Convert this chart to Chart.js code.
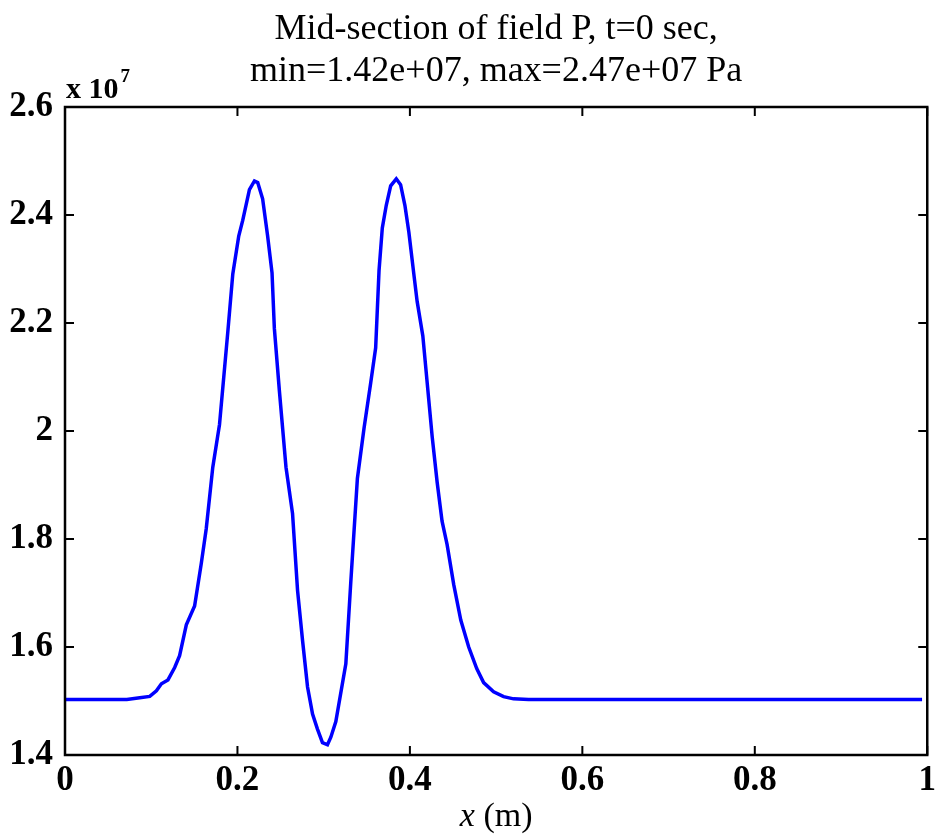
<!DOCTYPE html>
<html>
<head>
<meta charset="utf-8">
<script src="https://cdn.jsdelivr.net/npm/chart.js@4.4.1/dist/chart.umd.min.js"></script>
<style>
  html, body { margin: 0; padding: 0; background: #fff; }
  #wrap { width: 941px; height: 839px; }
</style>
</head>
<body>
<div id="wrap"><canvas id="grafica"></canvas></div>
<script>
// x position (m) along the mid-section
const xPos = [
  0, 0.0717, 0.0867, 0.0983, 0.106, 0.1118, 0.1194, 0.1272, 0.1329, 0.1407,
  0.1503, 0.158, 0.1638, 0.1714, 0.1792, 0.1888, 0.1946, 0.2015, 0.2061, 0.2139,
  0.2197, 0.2235, 0.2292, 0.235, 0.2401, 0.2428, 0.2486, 0.2563, 0.2639, 0.2697,
  0.2755, 0.2813, 0.2871, 0.2928, 0.2986, 0.3044, 0.3083, 0.3141, 0.3257, 0.3314,
  0.3391, 0.3468, 0.3546, 0.3603, 0.3642, 0.368, 0.3726, 0.3777, 0.3842, 0.3892,
  0.3942, 0.3988, 0.4046, 0.4084, 0.415, 0.42, 0.4258, 0.4316, 0.4373, 0.4431,
  0.4509, 0.459, 0.4682, 0.4775, 0.4855, 0.4971, 0.5087, 0.5202, 0.5376, 0.994
];
// pressure P, in units of 1e7 Pa
const pValues = [
  1.503, 1.503, 1.506, 1.5085, 1.519, 1.532, 1.539, 1.562, 1.584, 1.641,
  1.676, 1.754, 1.819, 1.933, 2.012, 2.183, 2.291, 2.361, 2.39, 2.447,
  2.463, 2.46, 2.43, 2.361, 2.293, 2.19, 2.075, 1.933, 1.847, 1.705,
  1.612, 1.526, 1.476, 1.448, 1.423, 1.419, 1.433, 1.462, 1.569, 1.719,
  1.912, 2.005, 2.09, 2.154, 2.297, 2.376, 2.418, 2.454, 2.467, 2.456,
  2.418, 2.368, 2.29, 2.24, 2.176, 2.09, 1.99, 1.905, 1.833, 1.79,
  1.715, 1.65, 1.6, 1.56, 1.534, 1.517, 1.508, 1.504, 1.503, 1.503
];
const xTicks = [0, 0.2, 0.4, 0.6, 0.8, 1];
const yTicks = [1.4, 1.6, 1.8, 2, 2.2, 2.4, 2.6];
const titleLines = ["Mid-section of field P, t=0 sec,", "min=1.42e+07, max=2.47e+07 Pa"];

const serif = "'Liberation Serif', 'Times New Roman', serif";

// marco, marcas interiores y textos estilo MATLAB
const matlabFrame = {
  id: "matlabFrame",
  afterDraw(chart) {
    const c = chart.ctx;
    const a = chart.chartArea;
    const sx = chart.scales.x;
    const sy = chart.scales.y;
    c.save();
    c.strokeStyle = "#000";
    c.lineWidth = 2.5;
    c.strokeRect(a.left, a.top, a.right - a.left, a.bottom - a.top);
    c.lineWidth = 2;
    c.beginPath();
    xTicks.forEach((t) => {
      const px = sx.getPixelForValue(t);
      c.moveTo(px, a.bottom); c.lineTo(px, a.bottom - 9);
      c.moveTo(px, a.top); c.lineTo(px, a.top + 9);
    });
    yTicks.forEach((t) => {
      const py = sy.getPixelForValue(t);
      c.moveTo(a.left, py); c.lineTo(a.left + 9, py);
      c.moveTo(a.right, py); c.lineTo(a.right - 9, py);
    });
    c.stroke();

    // titulo
    c.fillStyle = "#000";
    c.textAlign = "center";
    c.textBaseline = "alphabetic";
    c.font = "36px " + serif;
    const cx = (a.left + a.right) / 2;
    c.fillText(titleLines[0], cx, 39);
    c.fillText(titleLines[1], cx, 81);

    // exponente
    c.textAlign = "left";
    c.font = "bold 30px " + serif;
    c.fillText("x 10", a.left + 1, 98);
    const w = c.measureText("x 10").width;
    c.font = "bold 19px " + serif;
    c.fillText("7", a.left + 3 + w, 82);

    // etiqueta eje x
    c.font = "italic 34px " + serif;
    const w1 = c.measureText("x").width;
    c.font = "34px " + serif;
    const w2 = c.measureText(" (m)").width;
    const start = cx - (w1 + w2) / 2;
    c.font = "italic 34px " + serif;
    c.fillText("x", start, 826);
    c.font = "34px " + serif;
    c.fillText(" (m)", start + w1, 826);
    c.restore();
  },
};

const ctx = document.getElementById("grafica");
new Chart(ctx, {
  type: "line",
  data: {
    datasets: [
      {
        data: xPos.map((x, i) => ({ x: x, y: pValues[i] })),
        borderColor: "#0000ff",
        borderWidth: 3.5,
        pointRadius: 0,
        tension: 0,
        fill: false,
      },
    ],
  },
  options: {
    responsive: true,
    maintainAspectRatio: false,
    animation: false,
    layout: { padding: { left: 0, right: 11, top: 107, bottom: 0 } },
    plugins: {
      legend: { display: false },
      title: { display: false },
      tooltip: { enabled: false },
    },
    scales: {
      x: {
        type: "linear",
        min: 0,
        max: 1,
        grid: { display: false, drawTicks: false },
        border: { display: false },
        afterFit: (s) => { s.height = 84; },
        afterBuildTicks: (s) => { s.ticks = xTicks.map((v) => ({ value: v })); },
        ticks: {
          padding: 5,
          color: "#000",
          font: { family: serif, size: 35, weight: "bold" },
          maxRotation: 0,
          callback: (v) => String(Number(v.toFixed(1))),
        },
      },
      y: {
        type: "linear",
        min: 1.4,
        max: 2.6,
        grid: { display: false, drawTicks: false },
        border: { display: false },
        afterFit: (s) => { s.width = 65; },
        afterBuildTicks: (s) => { s.ticks = yTicks.map((v) => ({ value: v })); },
        ticks: {
          padding: 12,
          color: "#000",
          font: { family: serif, size: 35, weight: "bold" },
          callback: (v) => String(Number(v.toFixed(1))),
        },
      },
    },
  },
  plugins: [matlabFrame],
});
</script>
</body>
</html>
